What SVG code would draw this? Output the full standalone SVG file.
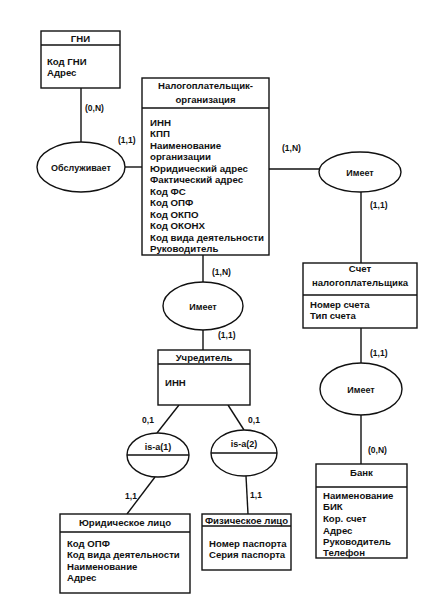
<svg xmlns="http://www.w3.org/2000/svg" width="430" height="614" viewBox="0 0 430 614">
<style>
.box{fill:#fff;stroke:#111;stroke-width:1.4}
.sep{stroke:#111;stroke-width:1.3}
.ell{fill:#fff;stroke:#111;stroke-width:1.4}
.ln{stroke:#111;stroke-width:1.4;fill:none}
text{font-family:"Liberation Sans",Arial,sans-serif;font-weight:bold;font-size:9.6px;fill:#111}
.c{text-anchor:middle}
.lbl{font-size:8.5px}
.big{font-size:9.7px}
.e{font-size:9px}
</style>
<rect width="430" height="614" fill="#fff"/>
<g id="connectors">
<line class="ln" x1="81" y1="88" x2="81" y2="142"/>
<line class="ln" x1="125" y1="167" x2="142" y2="167"/>
<line class="ln" x1="269" y1="169" x2="319" y2="169"/>
<line class="ln" x1="361" y1="192" x2="361" y2="263"/>
<line class="ln" x1="361" y1="328" x2="361" y2="363"/>
<line class="ln" x1="361" y1="415" x2="361" y2="464"/>
<line class="ln" x1="203" y1="255" x2="203" y2="282"/>
<line class="ln" x1="203" y1="330" x2="203" y2="350"/>
<line class="ln" x1="179" y1="405" x2="157" y2="433"/>
<line class="ln" x1="228" y1="405" x2="244" y2="430"/>
<line class="ln" x1="155" y1="477" x2="127" y2="514"/>
<line class="ln" x1="246" y1="476" x2="248" y2="514"/>
<text class="lbl" x="85" y="111">(0,N)</text>
<text class="lbl" x="118" y="143">(1,1)</text>
<text class="lbl" x="282" y="151">(1,N)</text>
<text class="lbl" x="370" y="208">(1,1)</text>
<text class="lbl" x="370" y="356">(1,1)</text>
<text class="lbl" x="368" y="453">(0,N)</text>
<text class="lbl" x="212" y="275">(1,N)</text>
<text class="lbl" x="218" y="338">(1,1)</text>
<text class="lbl c" x="148" y="423">0,1</text>
<text class="lbl c" x="254" y="423">0,1</text>
<text class="lbl c" x="131" y="499">1,1</text>
<text class="lbl c" x="256" y="498">1,1</text>
</g>
<g id="gni">
<rect class="box" x="41" y="31" width="79" height="57"/>
<line class="sep" x1="41" y1="45" x2="120" y2="45"/>
<text class="c" x="80.5" y="41.5">ГНИ</text>
<text x="47" y="65">Код ГНИ</text>
<text x="47" y="75.5">Адрес</text>
</g>
<g id="obsl">
<ellipse class="ell" cx="81" cy="167" rx="44" ry="25"/>
<text class="c e" x="81" y="170.5">Обслуживает</text>
</g>
<g id="org">
<rect class="box" x="142" y="78" width="127" height="177"/>
<line class="sep" x1="142" y1="108" x2="269" y2="108"/>
<text class="c" x="205.5" y="88.5">Налогоплательщик-</text>
<text class="c" x="205.5" y="103">организация</text>
<text class="big" x="150" y="125.5">ИНН</text>
<text class="big" x="150" y="137">КПП</text>
<text class="big" x="150" y="148.5">Наименование</text>
<text class="big" x="150" y="160">организации</text>
<text class="big" x="150" y="171.5">Юридический адрес</text>
<text class="big" x="150" y="183">Фактический адрес</text>
<text class="big" x="150" y="194.5">Код ФС</text>
<text class="big" x="150" y="206">Код ОПФ</text>
<text class="big" x="150" y="217.5">Код ОКПО</text>
<text class="big" x="150" y="229">Код ОКОНХ</text>
<text class="big" x="150" y="240.5">Код вида деятельности</text>
<text class="big" x="150" y="252">Руководитель</text>
</g>
<g id="imeet1">
<ellipse class="ell" cx="360" cy="172" rx="41" ry="20"/>
<text class="c e" x="360" y="175.5">Имеет</text>
</g>
<g id="schet">
<rect class="box" x="303" y="263" width="114" height="65"/>
<line class="sep" x1="303" y1="295" x2="417" y2="295"/>
<text class="c" x="360" y="272">Счет</text>
<text class="c" x="360" y="286">налогоплательщика</text>
<text x="310" y="308">Номер счета</text>
<text x="310" y="319">Тип счета</text>
</g>
<g id="imeet3">
<ellipse class="ell" cx="361" cy="389" rx="41" ry="26"/>
<text class="c e" x="361" y="392.5">Имеет</text>
</g>
<g id="bank">
<rect class="box" x="316" y="464" width="91" height="94"/>
<line class="sep" x1="316" y1="487" x2="407" y2="487"/>
<text class="c" x="361.5" y="476">Банк</text>
<text x="323" y="498.5">Наименование</text>
<text x="323" y="510">БИК</text>
<text x="323" y="522">Кор. счет</text>
<text x="323" y="533.5">Адрес</text>
<text x="323" y="545">Руководитель</text>
<text x="323" y="556">Телефон</text>
</g>
<g id="imeet2">
<ellipse class="ell" cx="203" cy="306" rx="40" ry="24"/>
<text class="c e" x="203" y="309.5">Имеет</text>
</g>
<g id="uchr">
<rect class="box" x="158" y="350" width="92" height="55"/>
<line class="sep" x1="158" y1="364" x2="250" y2="364"/>
<text class="c" x="204" y="360.5">Учредитель</text>
<text x="165" y="385.5">ИНН</text>
</g>
<g id="isa1">
<ellipse class="ell" cx="158" cy="455" rx="31" ry="22"/>
<line class="sep" x1="127" y1="455" x2="189" y2="455"/>
<text class="c e" x="158" y="450">is-a(1)</text>
</g>
<g id="isa2">
<ellipse class="ell" cx="244" cy="453" rx="33" ry="23"/>
<line class="sep" x1="211" y1="453" x2="277" y2="453"/>
<text class="c e" x="244" y="447">is-a(2)</text>
</g>
<g id="yur">
<rect class="box" x="60" y="514" width="130" height="79"/>
<line class="sep" x1="60" y1="532" x2="190" y2="532"/>
<text class="c" x="125" y="525.5">Юридическое лицо</text>
<text x="67" y="546.5">Код ОПФ</text>
<text x="67" y="558">Код вида деятельности</text>
<text x="67" y="569.5">Наименование</text>
<text x="67" y="581">Адрес</text>
</g>
<g id="fiz">
<rect class="box" x="202" y="514" width="89" height="56"/>
<line class="sep" x1="202" y1="526" x2="291" y2="526"/>
<text class="c" x="246.5" y="523.5">Физическое лицо</text>
<text x="209" y="546.5">Номер паспорта</text>
<text x="209" y="557.5">Серия паспорта</text>
</g>
</svg>
